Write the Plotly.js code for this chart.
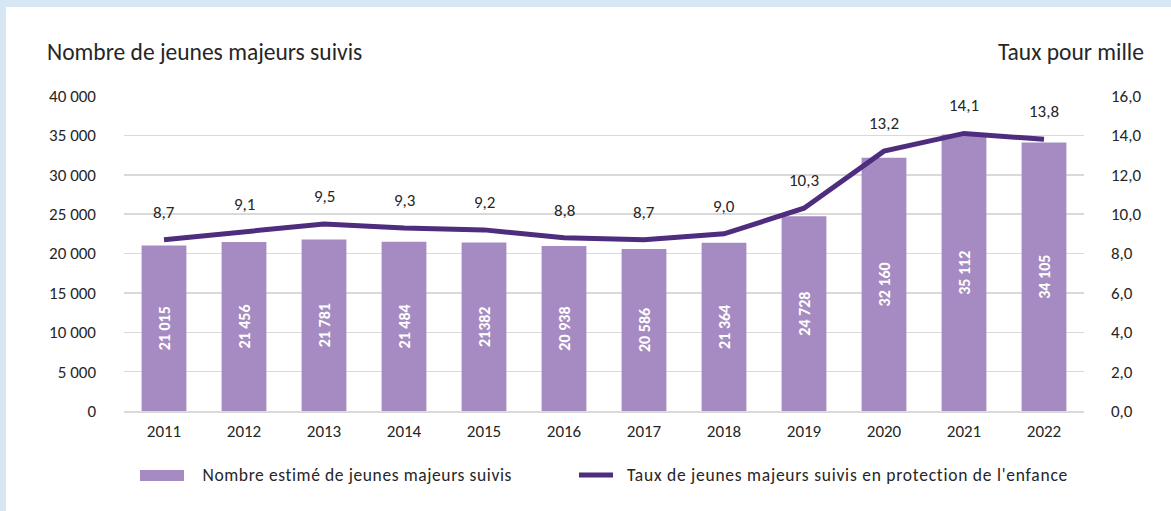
<!DOCTYPE html>
<html>
<head>
<meta charset="utf-8">
<script src="https://cdn.plot.ly/plotly-3.0.1.min.js"></script>
<style>
  html, body { margin: 0; padding: 0; background: #d7e6f3; width: 1171px; height: 511px; overflow: hidden; }
  #chart { position: absolute; left: 6px; top: 7px; width: 1165px; height: 504px; background: #ffffff; }
  g.annotation[data-index="14"] text { letter-spacing: 0.6px; }
  g.annotation[data-index="15"] text { letter-spacing: 0.75px; }
</style>
</head>
<body>
<div id="chart"></div>
<script>
const years = ["2011","2012","2013","2014","2015","2016","2017","2018","2019","2020","2021","2022"];
const counts = [21015, 21456, 21781, 21484, 21382, 20938, 20586, 21364, 24728, 32160, 35112, 34105];
const countLabels = ["21 015","21 456","21 781","21 484","21382","20 938","20 586","21 364","24 728","32 160","35 112","34 105"];
const rates = [8.7, 9.1, 9.5, 9.3, 9.2, 8.8, 8.7, 9.0, 10.3, 13.2, 14.1, 13.8];
const rateLabels = ["8,7","9,1","9,5","9,3","9,2","8,8","8,7","9,0","10,3","13,2","14,1","13,8"];

const FONT = "Carlito, Lato, 'Liberation Sans', sans-serif";
const TXT = "#262626";
const BAR = "#a68bc2";
const LINE = "#4e2c7e";
const GRID = "#d9d9d9";

// page-pixel -> paper helpers (plot area: x 124..1084, y 96..411 in page coords)
const px = x => (x - 124) / 960;
const py = y => (411 - y) / 315;

const bars = {
  type: "bar", x: years, y: counts, text: countLabels,
  textposition: "inside", insidetextanchor: "middle", textangle: -90,
  textfont: { family: FONT, size: 16, color: "#ffffff", weight: 700 },
  marker: { color: BAR }, hoverinfo: "skip", showlegend: false
};
const line = {
  type: "scatter", mode: "lines", x: years, y: rates, yaxis: "y2",
  line: { color: LINE, width: 5 }, showlegend: false, hoverinfo: "skip"
};

const annotations = rates.map((r, i) => ({
  x: i, y: r, xref: "x", yref: "y2", text: rateLabels[i], showarrow: false,
  yanchor: "bottom", yshift: 15, font: { family: FONT, size: 17, color: TXT }
}));
annotations.push(
  { xref: "paper", yref: "paper", x: px(45), y: py(52), xanchor: "left", yanchor: "middle",
    text: "Nombre de jeunes majeurs suivis", showarrow: false, font: { family: FONT, size: 23.5, color: TXT } },
  { xref: "paper", yref: "paper", x: px(1146), y: py(52), xanchor: "right", yanchor: "middle",
    text: "Taux pour mille", showarrow: false, font: { family: FONT, size: 23.5, color: TXT } },
  { xref: "paper", yref: "paper", x: px(212), y: py(475), xanchor: "left", yanchor: "middle",
    text: "Nombre estimé de jeunes majeurs suivis", showarrow: false, font: { family: FONT, size: 17.5, color: TXT } },
  { xref: "paper", yref: "paper", x: px(646), y: py(475), xanchor: "left", yanchor: "middle",
    text: "Taux de jeunes majeurs suivis en protection de l'enfance", showarrow: false, font: { family: FONT, size: 17.5, color: TXT } }
);

const shapes = [
  { type: "rect", xref: "paper", yref: "paper", x0: px(140), x1: px(184), y0: py(470), y1: py(481),
    fillcolor: BAR, line: { width: 0 } },
  { type: "line", xref: "paper", yref: "paper", x0: px(579), x1: px(613), y0: py(475), y1: py(475),
    line: { color: LINE, width: 5 } }
];

const layout = {
  width: 1165, height: 504,
  margin: { l: 118, r: 87, t: 89, b: 100 },
  paper_bgcolor: "#ffffff", plot_bgcolor: "#ffffff",
  separators: ", ",
  font: { family: FONT, size: 17, color: TXT },
  bargap: 0.44,
  showlegend: false,
  xaxis: {
    type: "category", range: [-0.5, years.length - 0.5], autorange: false,
    showgrid: false, showline: true, linecolor: GRID, linewidth: 1.5,
    ticks: "", ticklabelstandoff: 4, tickfont: { family: FONT, size: 17, color: TXT }
  },
  yaxis: {
    range: [0, 40000], autorange: false, dtick: 5000, tickformat: ",d", showgrid: true, gridcolor: GRID, gridwidth: 1.5,
    zeroline: false, showline: false, ticks: "", ticklabelstandoff: 27,
    tickfont: { family: FONT, size: 17, color: TXT }
  },
  yaxis2: {
    range: [0, 16], autorange: false, dtick: 2, tickformat: ".1f", overlaying: "y", side: "right",
    showgrid: false, zeroline: false, showline: false, ticks: "", ticklabelstandoff: 26,
    tickfont: { family: FONT, size: 17, color: TXT }
  },
  annotations: annotations,
  shapes: shapes
};

Plotly.newPlot("chart", [bars, line], layout, { staticPlot: true, displayModeBar: false });
</script>
</body>
</html>
